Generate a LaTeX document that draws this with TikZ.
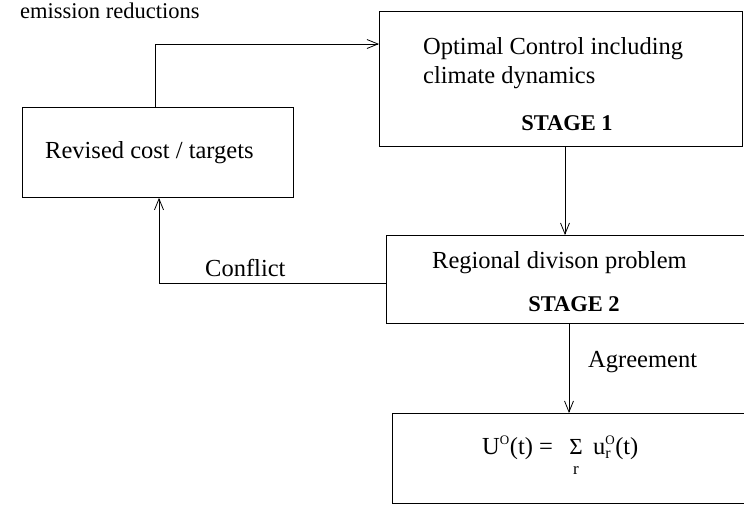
\documentclass[tikz,border=0pt]{standalone}
\usepackage{fontspec}
\setmainfont{Liberation Serif}
\usetikzlibrary{arrows.meta}
\tikzset{
  box/.style={draw, line width=0.8pt, inner sep=0pt, anchor=north west},
  lbl/.style={inner sep=0pt, anchor=base west, font=\fontsize{24.5}{28}\selectfont},
  stg/.style={inner sep=0pt, anchor=base, font=\fontsize{22.5}{26}\selectfont\bfseries},
  arr/.style={line width=0.8pt, -{Straight Barb[length=11pt,width=9pt,line width=0.8pt]}},
  ln/.style={line width=0.8pt}
}
\newcommand{\supO}{\raisebox{10pt}{\fontsize{13}{13}\selectfont O}}
\begin{document}
\begin{tikzpicture}[x=1pt,y=-1pt]
\useasboundingbox (0,0) rectangle (744,504);
% boxes
\node[box, minimum width=363pt, minimum height=135pt] (s1) at (379,11) {};
\node[box, minimum width=271pt, minimum height=90pt] (rev) at (22,107) {};
\node[box, minimum width=370pt, minimum height=88pt] (s2) at (386,235) {};
\node[box, minimum width=360pt, minimum height=90pt] (s3) at (392,413) {};
% texts
\node[lbl, font=\fontsize{22.5}{26}\selectfont] (em) at (20,18) {emission reductions};
\node[lbl] (t1a) at (423,54) {Optimal Control including};
\node[lbl] (t1b) at (423,83) {climate dynamics};
\node[stg] (t1c) at (567,130) {STAGE 1};
\node[lbl] (trev) at (45,158) {Revised cost / targets};
\node[lbl] (t2a) at (432,268) {Regional divison problem};
\node[stg] (t2b) at (574,311) {STAGE 2};
\node[lbl] (conf) at (205,276) {Conflict};
\node[lbl] (agr) at (588,367) {Agreement};
\node[lbl] (form) at (482,454) {U\makebox[10pt][l]{\supO}(t) = \ \,\rlap{\fontsize{23}{23}\selectfont Σ}\makebox[13.5pt][c]{\raisebox{-20pt}{\fontsize{17}{17}\selectfont r}} \,u\rlap{\supO}\makebox[10pt][l]{\raisebox{-4pt}{\fontsize{16}{16}\selectfont r}}(t)};
% connectors
\coordinate (c1) at (155,44);
\coordinate (c2) at (565,0);
\coordinate (c3) at (159,283);
\coordinate (c4) at (569,0);
\draw[arr] (rev.north -| c1) -- (c1) -- (s1.west |- c1);
\draw[arr] (s1.south -| c2) -- (s2.north -| c2);
\draw[arr] (s2.west |- c3) -- (c3) -- (rev.south -| c3);
\draw[arr] (s2.south -| c4) -- (s3.north -| c4);
\end{tikzpicture}
\end{document}
